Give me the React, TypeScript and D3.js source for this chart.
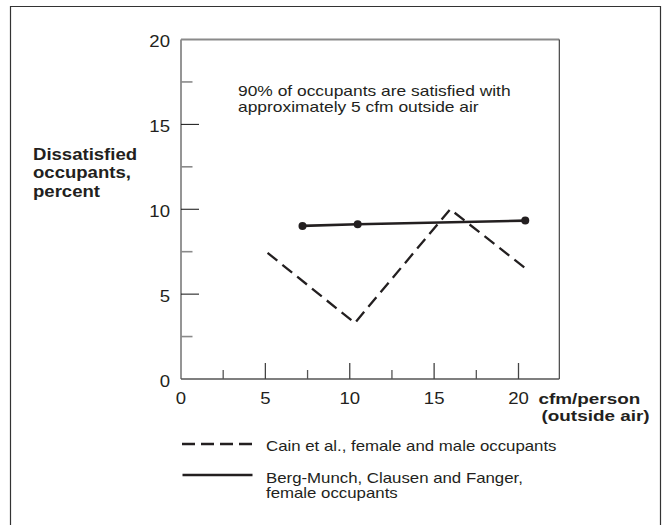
import React from "react";
import * as d3 from "d3";

const cainX = [5.13, 10.3, 15.95, 20.5];
const cainY = [7.43, 3.3, 10.0, 6.45];
const bergX = [7.2, 10.47, 20.4];
const bergY = [9.02, 9.12, 9.33];
const xMajorTicks = [5, 10, 15, 20];
const xMinorTicks = [2.5, 7.5, 12.5, 17.5];
const xTickLabels = ["0", "5", "10", "15", "20"];
const yMajorTicks = [5, 10, 15];
const yMinorTicks = [2.5, 7.5, 12.5, 17.5];
const yTickLabels = ["0", "5", "10", "15", "20"];
const yTitle = ["Dissatisfied", "occupants,", "percent"];
const xTitle = ["cfm/person", "(outside air)"];
const note = ["90% of occupants are satisfied with", "approximately 5 cfm outside air"];
const legendCain = ["Cain et al., female and male occupants"];
const legendBerg = ["Berg-Munch, Clausen and Fanger,", "female occupants"];

const W = 663;
const H = 525;
const FONT = "'Liberation Sans', Arial, Helvetica, sans-serif";
const SX = 1.16;

function T({ x, y, size, weight = "normal", anchor = "start", lines, gap = 0, indent = 0, sx = SX }: any) {
  return (
    <g transform={`translate(${x},${y}) scale(${sx},1)`}>
      <text x={0} y={0} fontSize={size} fontWeight={weight} textAnchor={anchor} fontFamily={FONT} fill="#231f20">
        {lines.map((s: string, i: number) => (
          <tspan key={i} x={i * indent} dy={i === 0 ? 0 : gap}>
            {s}
          </tspan>
        ))}
      </text>
    </g>
  );
}

export default function App() {
  const x = d3.scaleLinear().domain([0, 20]).range([181, 518.5]);
  const y = d3.scaleLinear().domain([0, 20]).range([379, 39.5]);
  const xRight = 559.3;
  const line = d3
    .line<[number, number]>()
    .x((d) => x(d[0]))
    .y((d) => y(d[1]));
  const cainPts = cainX.map((v, i) => [v, cainY[i]] as [number, number]);
  const bergPts = bergX.map((v, i) => [v, bergY[i]] as [number, number]);

  return (
    <svg width={W} height={H} style={{ position: "absolute", left: 0, top: 0, background: "#fff" }}>
      <rect x={0} y={0} width={W} height={H} fill="#fff" />
      {/* outer frame */}
      <path d={`M10.5,${H} V6.5 H660.5 V${H}`} fill="none" stroke="#333" strokeWidth={1.2} />

      {/* plot box */}
      <line x1={x(0)} x2={xRight} y1={y(20)} y2={y(20)} stroke="#8a8a8a" strokeWidth={1.8} />
      <line x1={xRight} x2={xRight} y1={y(20)} y2={y(0)} stroke="#333" strokeWidth={1.1} />
      <line x1={x(0)} x2={x(0)} y1={y(20)} y2={y(0)} stroke="#8a8a8a" strokeWidth={1.8} />
      <line x1={x(0)} x2={xRight} y1={y(0)} y2={y(0)} stroke="#555" strokeWidth={1.4} />

      {/* y ticks */}
      {yMajorTicks.map((t) => (
        <line key={"ym" + t} x1={x(0)} x2={x(0) + 18} y1={y(t)} y2={y(t)} stroke="#111" strokeWidth={1} />
      ))}
      {yMinorTicks.map((t) => (
        <line key={"yn" + t} x1={x(0)} x2={x(0) + 11.5} y1={y(t)} y2={y(t)} stroke="#8a8a8a" strokeWidth={1.6} />
      ))}
      {/* x ticks */}
      {xMajorTicks.map((t) => (
        <line key={"xm" + t} x1={x(t)} x2={x(t)} y1={y(0)} y2={y(0) - 16} stroke="#444" strokeWidth={1.3} />
      ))}
      {xMinorTicks.map((t) => (
        <line key={"xn" + t} x1={x(t)} x2={x(t)} y1={y(0)} y2={y(0) - 9} stroke="#555" strokeWidth={1.3} />
      ))}

      {/* tick labels */}
      {yTickLabels.map((l) => (
        <T key={"yl" + l} x={170} y={y(+l) + 7.5} size={16} anchor="end" lines={[l]} />
      ))}
      {xTickLabels.map((l) => (
        <T key={"xl" + l} x={x(+l)} y={404} size={16} anchor="middle" lines={[l]} />
      ))}

      {/* titles */}
      <T x={33} y={160} size={16} weight="bold" lines={yTitle} gap={18.5} />
      <T x={538.5} y={404} size={15} weight="bold" lines={xTitle} gap={17} indent={2.4} sx={1.26} />
      <T x={238} y={96} size={15} lines={note} gap={16} />

      {/* series */}
      <path d={line(cainPts) || ""} fill="none" stroke="#231f20" strokeWidth={2.3} strokeDasharray="12.5,6.5" />
      <path d={line(bergPts) || ""} fill="none" stroke="#231f20" strokeWidth={2.6} />
      {bergPts.map((p, i) => (
        <circle key={"b" + i} cx={x(p[0])} cy={y(p[1])} r={4} fill="#231f20" />
      ))}

      {/* legend */}
      <line x1={182} x2={252} y1={444} y2={444} stroke="#231f20" strokeWidth={2.3} strokeDasharray="13,6" />
      <line x1={182.5} x2={252.5} y1={475} y2={475} stroke="#231f20" strokeWidth={2.6} />
      <T x={266} y={451} size={14.5} lines={legendCain} />
      <T x={266} y={483} size={14.5} lines={legendBerg} gap={15} />
    </svg>
  );
}
